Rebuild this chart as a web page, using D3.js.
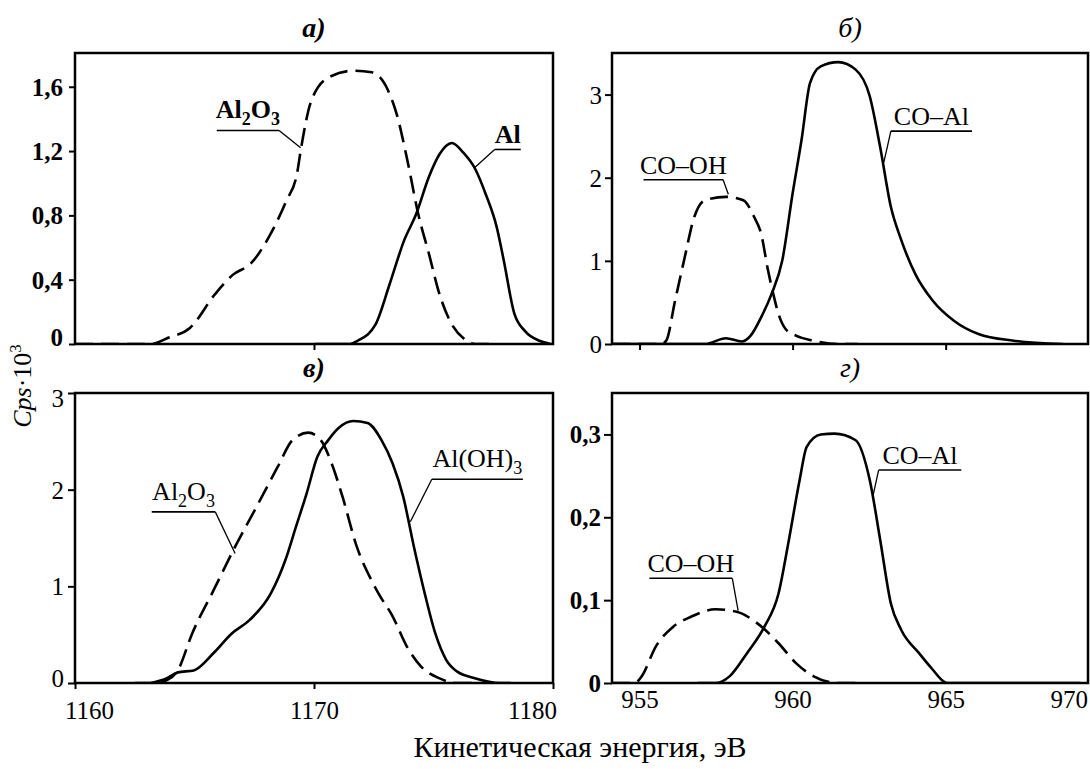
<!DOCTYPE html>
<html>
<head>
<meta charset="utf-8">
<script src="https://cdn.jsdelivr.net/npm/d3@7"></script>
<style>
  body { margin: 0; background: #fff; }
  svg { display: block; font-family: "Liberation Serif", "Times New Roman", serif; }
</style>
</head>
<body>
<div id="chart"></div>
<script>
// spectra: [energy eV, Cps·10^3]
const aAl2O3 = [[1160,0],[1163.17,0],[1163.92,0.04],[1164.81,0.1],[1165.86,0.31],[1166.6,0.43],[1167.35,0.5],[1168.24,0.7],[1168.84,0.89],[1169.29,1.06],[1169.44,1.2],[1169.88,1.51],[1170.63,1.66],[1171.67,1.7],[1172.42,1.69],[1173.09,1.58],[1173.46,1.43],[1173.91,1.14],[1174.36,0.81],[1174.81,0.56],[1175.25,0.31],[1175.7,0.14],[1176.3,0.03],[1176.74,0],[1177.5,0]];
const aAl = [[1170.03,0],[1171.52,0],[1171.82,0.02],[1172.57,0.12],[1173.16,0.37],[1173.76,0.64],[1174.28,0.81],[1174.81,1.04],[1175.25,1.18],[1175.77,1.25],[1176.25,1.19],[1176.74,1.09],[1177.19,0.93],[1177.64,0.73],[1177.94,0.52],[1178.38,0.19],[1178.83,0.08],[1179.43,0.02],[1179.9,0]];

const bCoOh = [[954.1,0],[955.7,0],[955.87,0.04],[956.16,0.52],[956.45,1.0],[956.79,1.53],[957.14,1.73],[957.82,1.77],[958.39,1.73],[958.74,1.53],[958.97,1.33],[959.2,0.88],[959.37,0.6],[959.54,0.36],[959.77,0.18],[960.11,0.1],[960.69,0.04],[961.49,0],[962.12,0]];
const bCoAl = [[954.1,0],[957.14,0],[957.82,0.07],[958.34,0.03],[958.63,0.1],[958.97,0.32],[959.31,0.6],[959.66,1.0],[960.0,1.81],[960.29,2.45],[960.57,3.14],[960.92,3.34],[961.49,3.39],[962.06,3.3],[962.52,2.98],[962.86,2.37],[963.21,1.65],[963.55,1.25],[964.01,0.84],[964.58,0.52],[965.27,0.28],[966.07,0.12],[967.22,0.04],[968.83,0]];

const cAl2O3 = [[1162.5,0],[1163.25,0],[1163.85,0.03],[1164.3,0.13],[1164.9,0.51],[1165.8,0.96],[1166.7,1.41],[1167.59,1.82],[1168.49,2.24],[1169.09,2.51],[1169.76,2.59],[1170.29,2.51],[1170.74,2.27],[1171.19,1.93],[1171.79,1.41],[1172.39,1.07],[1172.69,0.93],[1173.29,0.69],[1173.88,0.38],[1174.48,0.17],[1175.23,0.05],[1175.98,0],[1176.73,0]];
const cAlOH3 = [[1163.19,0],[1163.85,0.05],[1164.3,0.11],[1164.97,0.13],[1165.8,0.31],[1166.55,0.51],[1167.3,0.65],[1168.2,0.93],[1168.8,1.27],[1169.25,1.62],[1169.69,1.96],[1170.14,2.34],[1170.59,2.51],[1171.04,2.64],[1171.64,2.71],[1172.24,2.69],[1172.83,2.51],[1173.29,2.27],[1173.73,1.93],[1174.18,1.41],[1174.63,0.93],[1175.08,0.51],[1175.53,0.24],[1175.98,0.12],[1176.73,0.05],[1177.78,0],[1178.23,0]];

const dCoOh = [[954.1,0],[954.84,0],[955.07,0.008],[955.53,0.044],[956.1,0.068],[956.68,0.08],[957.48,0.089],[958.17,0.086],[958.85,0.072],[959.54,0.048],[960.11,0.024],[960.69,0.008],[961.49,0],[962.06,0]];
const dCoAl = [[956.9,0],[957.48,0],[957.94,0.008],[958.51,0.036],[959.08,0.068],[959.54,0.108],[959.88,0.173],[960.23,0.245],[960.46,0.285],[960.92,0.3],[961.37,0.301],[962.06,0.293],[962.52,0.245],[962.86,0.173],[963.21,0.096],[963.55,0.064],[964.13,0.036],[964.58,0.016],[964.93,0.002],[965.04,0],[969.4,0]];

// tick values
const alTicksX = [1160, 1170, 1180];
const coTicksX = [955, 960, 965, 970];
const aTicksY = [0, 0.4, 0.8, 1.2, 1.6];
const bTicksY = [0, 1, 2, 3];
const cTicksY = [0, 1, 2, 3];
const dTicksY = [0, 0.1, 0.2, 0.3];

// labels: "_n" is a subscript; tip = point on the curve, elbow = end of the underline
const aNotes = [
  { text: "Al_2O_3", elbow: [1168.54, 1.328], end: 1165.93, tip: [1169.44, 1.22] },
  { text: "Al", elbow: [1177.56, 1.21], end: 1178.65, tip: [1176.74, 1.1] }
];
const bNotes = [
  { text: "CO–OH", elbow: [957.73, 1.975], end: 955.13, tip: [957.9, 1.8] },
  { text: "CO–Al", elbow: [963.21, 2.56], end: 965.86, tip: [962.98, 2.185] }
];
const cNotes = [
  { text: "Al_2O_3", elbow: [1165.87, 1.77], end: 1163.21, tip: [1166.7, 1.34] },
  { text: "Al(OH)_3", elbow: [1174.93, 2.107], end: 1178.74, tip: [1174.03, 1.668] }
];
const dNotes = [
  { text: "CO–OH", elbow: [958.03, 0.1264], end: 955.32, tip: [958.22, 0.0873] },
  { text: "CO–Al", elbow: [962.81, 0.257], end: 965.51, tip: [962.61, 0.223] }
];

const W = 1090, H = 769;
const colL = [75, 553], colR = [612, 1088];
const rowT = [53, 344], rowB = [393, 683];

const panels = [
  { id: "a", title: "а)", heavy: true, cols: colL, rows: rowT, xDomain: [1160, 1180], yDomain: [0, 1.81],
    xTicks: [1170], xLabels: false, yTicks: aTicksY, ySize: 6, yPad: 6, yBold: true, yNudge: { 0: -7 },
    lines: [{ data: aAl2O3, dash: true }, { data: aAl }], notes: aNotes },
  { id: "b", title: "б)", heavy: false, cols: colR, rows: rowT, xDomain: [954.1, 969.65], yDomain: [0, 3.5],
    xTicks: [955, 960, 965], xLabels: false, yTicks: bTicksY, ySize: 7, yPad: 3, yBold: false, yNudge: {},
    lines: [{ data: bCoOh, dash: true }, { data: bCoAl }], notes: bNotes },
  { id: "c", title: "в)", heavy: true, cols: colL, rows: rowB, xDomain: [1160, 1180], yDomain: [0, 3],
    xTicks: alTicksX, xLabels: true, xSize: 6, xPad: 12, xShift: { 1160: 14, 1180: -21 },
    yTicks: cTicksY, ySize: 7, yPad: 4, yBold: false, yNudge: { 0: -5, 3: 5 },
    lines: [{ data: cAl2O3, dash: true }, { data: cAlOH3 }], notes: cNotes },
  { id: "d", title: "г)", heavy: false, cols: colR, rows: rowB, xDomain: [954.1, 969.65], yDomain: [0, 0.35],
    xTicks: coTicksX, xLabels: true, xSize: 0, xPad: 7, xShift: { 970: -30 },
    yTicks: dTicksY, ySize: 8, yPad: 3, yBold: true, yNudge: {},
    lines: [{ data: dCoOh, dash: true }, { data: dCoAl }], notes: dNotes }
];

const svg = d3.select("#chart").append("svg").attr("width", W).attr("height", H);
const fmtComma = d => (d === 0 ? "0" : Number.isInteger(d) ? String(d) : d.toFixed(1).replace(".", ","));

panels.forEach(p => {
  const x = d3.scaleLinear().domain(p.xDomain).range(p.cols);
  const y = d3.scaleLinear().domain(p.yDomain).range([p.rows[1], p.rows[0]]);
  const g = svg.append("g").attr("class", "panel-" + p.id);

  g.append("clipPath").attr("id", "clip-" + p.id)
    .append("rect")
    .attr("x", p.cols[0]).attr("y", p.rows[0] - 2)
    .attr("width", p.cols[1] - p.cols[0]).attr("height", p.rows[1] - p.rows[0] + 2);

  // title
  g.append("text")
    .attr("x", (p.cols[0] + p.cols[1]) / 2)
    .attr("y", p.rows[0] - 16)
    .attr("text-anchor", "middle")
    .attr("font-size", 28)
    .attr("font-style", "italic")
    .attr("font-weight", p.heavy ? "bold" : "normal")
    .text(p.title);

  // y axis
  const yAxis = d3.axisLeft(y).tickValues(p.yTicks).tickSize(p.ySize).tickPadding(p.yPad).tickFormat(fmtComma);
  const gy = g.append("g").attr("transform", `translate(${p.cols[0]},0)`).call(yAxis)
    .attr("font-family", null).attr("font-size", 25);
  gy.select(".domain").remove();
  gy.selectAll(".tick line").attr("stroke", "#000").attr("stroke-width", 2);
  gy.selectAll(".tick text")
    .attr("fill", "#000")
    .attr("font-weight", p.yBold ? "bold" : "normal")
    .attr("dy", "0.34em")
    .attr("transform", d => `translate(0,${p.yNudge[d] || 0})`);

  // x axis
  const xAxis = d3.axisBottom(x).tickValues(p.xTicks)
    .tickSize(p.xLabels ? p.xSize : 6).tickPadding(p.xLabels ? p.xPad : 3)
    .tickFormat(p.xLabels ? d3.format("d") : "");
  const gx = g.append("g").attr("transform", `translate(0,${p.rows[1]})`).call(xAxis)
    .attr("font-family", null).attr("font-size", 25);
  gx.select(".domain").remove();
  gx.selectAll(".tick line").attr("stroke", "#000").attr("stroke-width", 2);
  gx.selectAll(".tick text")
    .attr("fill", "#000")
    .attr("dx", d => (p.xShift && p.xShift[d]) || 0);

  // curves
  const line = d3.line().x(d => x(d[0])).y(d => y(d[1])).curve(d3.curveMonotoneX);
  g.append("g").attr("clip-path", `url(#clip-${p.id})`)
    .selectAll("path")
    .data(p.lines)
    .join("path")
    .attr("d", d => line(d.data))
    .attr("fill", "none")
    .attr("stroke", "#000")
    .attr("stroke-width", 2.6)
    .attr("stroke-linejoin", "round")
    .attr("stroke-dasharray", d => (d.dash ? "18,8" : null));

  // frame
  g.append("rect")
    .attr("x", p.cols[0]).attr("y", p.rows[0])
    .attr("width", p.cols[1] - p.cols[0]).attr("height", p.rows[1] - p.rows[0])
    .attr("fill", "none").attr("stroke", "#000").attr("stroke-width", 2.5);

  // labels with underline and leader
  p.notes.forEach(n => {
    const ex = x(n.elbow[0]), ey = y(n.elbow[1]), ox = x(n.end);
    g.append("line").attr("x1", ox).attr("y1", ey).attr("x2", ex).attr("y2", ey)
      .attr("stroke", "#000").attr("stroke-width", 1.6);
    g.append("line").attr("x1", ex).attr("y1", ey).attr("x2", x(n.tip[0])).attr("y2", y(n.tip[1]))
      .attr("stroke", "#000").attr("stroke-width", 1.3);
    const hasSub = n.text.includes("_");
    const t = g.append("text")
      .attr("x", (ex + ox) / 2)
      .attr("y", ey - (hasSub ? 12 : 6))
      .attr("text-anchor", "middle")
      .attr("font-size", 26)
      .attr("font-weight", p.id === "a" ? "bold" : "normal");
    let shifted = false;
    n.text.split(/(_\d)/).filter(s => s).forEach(s => {
      if (s[0] === "_") {
        t.append("tspan").attr("font-size", 18).attr("dy", 7).text(s.slice(1));
        shifted = true;
      } else {
        t.append("tspan").attr("dy", shifted ? -7 : null).text(s);
        shifted = false;
      }
    });
  });
});

// shared axis titles
const yTitle = svg.append("text")
  .attr("transform", "translate(31,386) rotate(-90)")
  .attr("text-anchor", "middle")
  .attr("font-size", 26);
yTitle.append("tspan").attr("font-style", "italic").text("Cps");
yTitle.append("tspan").text("·10");
yTitle.append("tspan").attr("font-size", 17).attr("dy", -10).text("3");

svg.append("text")
  .attr("x", 580)
  .attr("y", 757)
  .attr("text-anchor", "middle")
  .attr("font-size", 30)
  .text("Кинетическая энергия, эВ");
</script>
</body>
</html>
